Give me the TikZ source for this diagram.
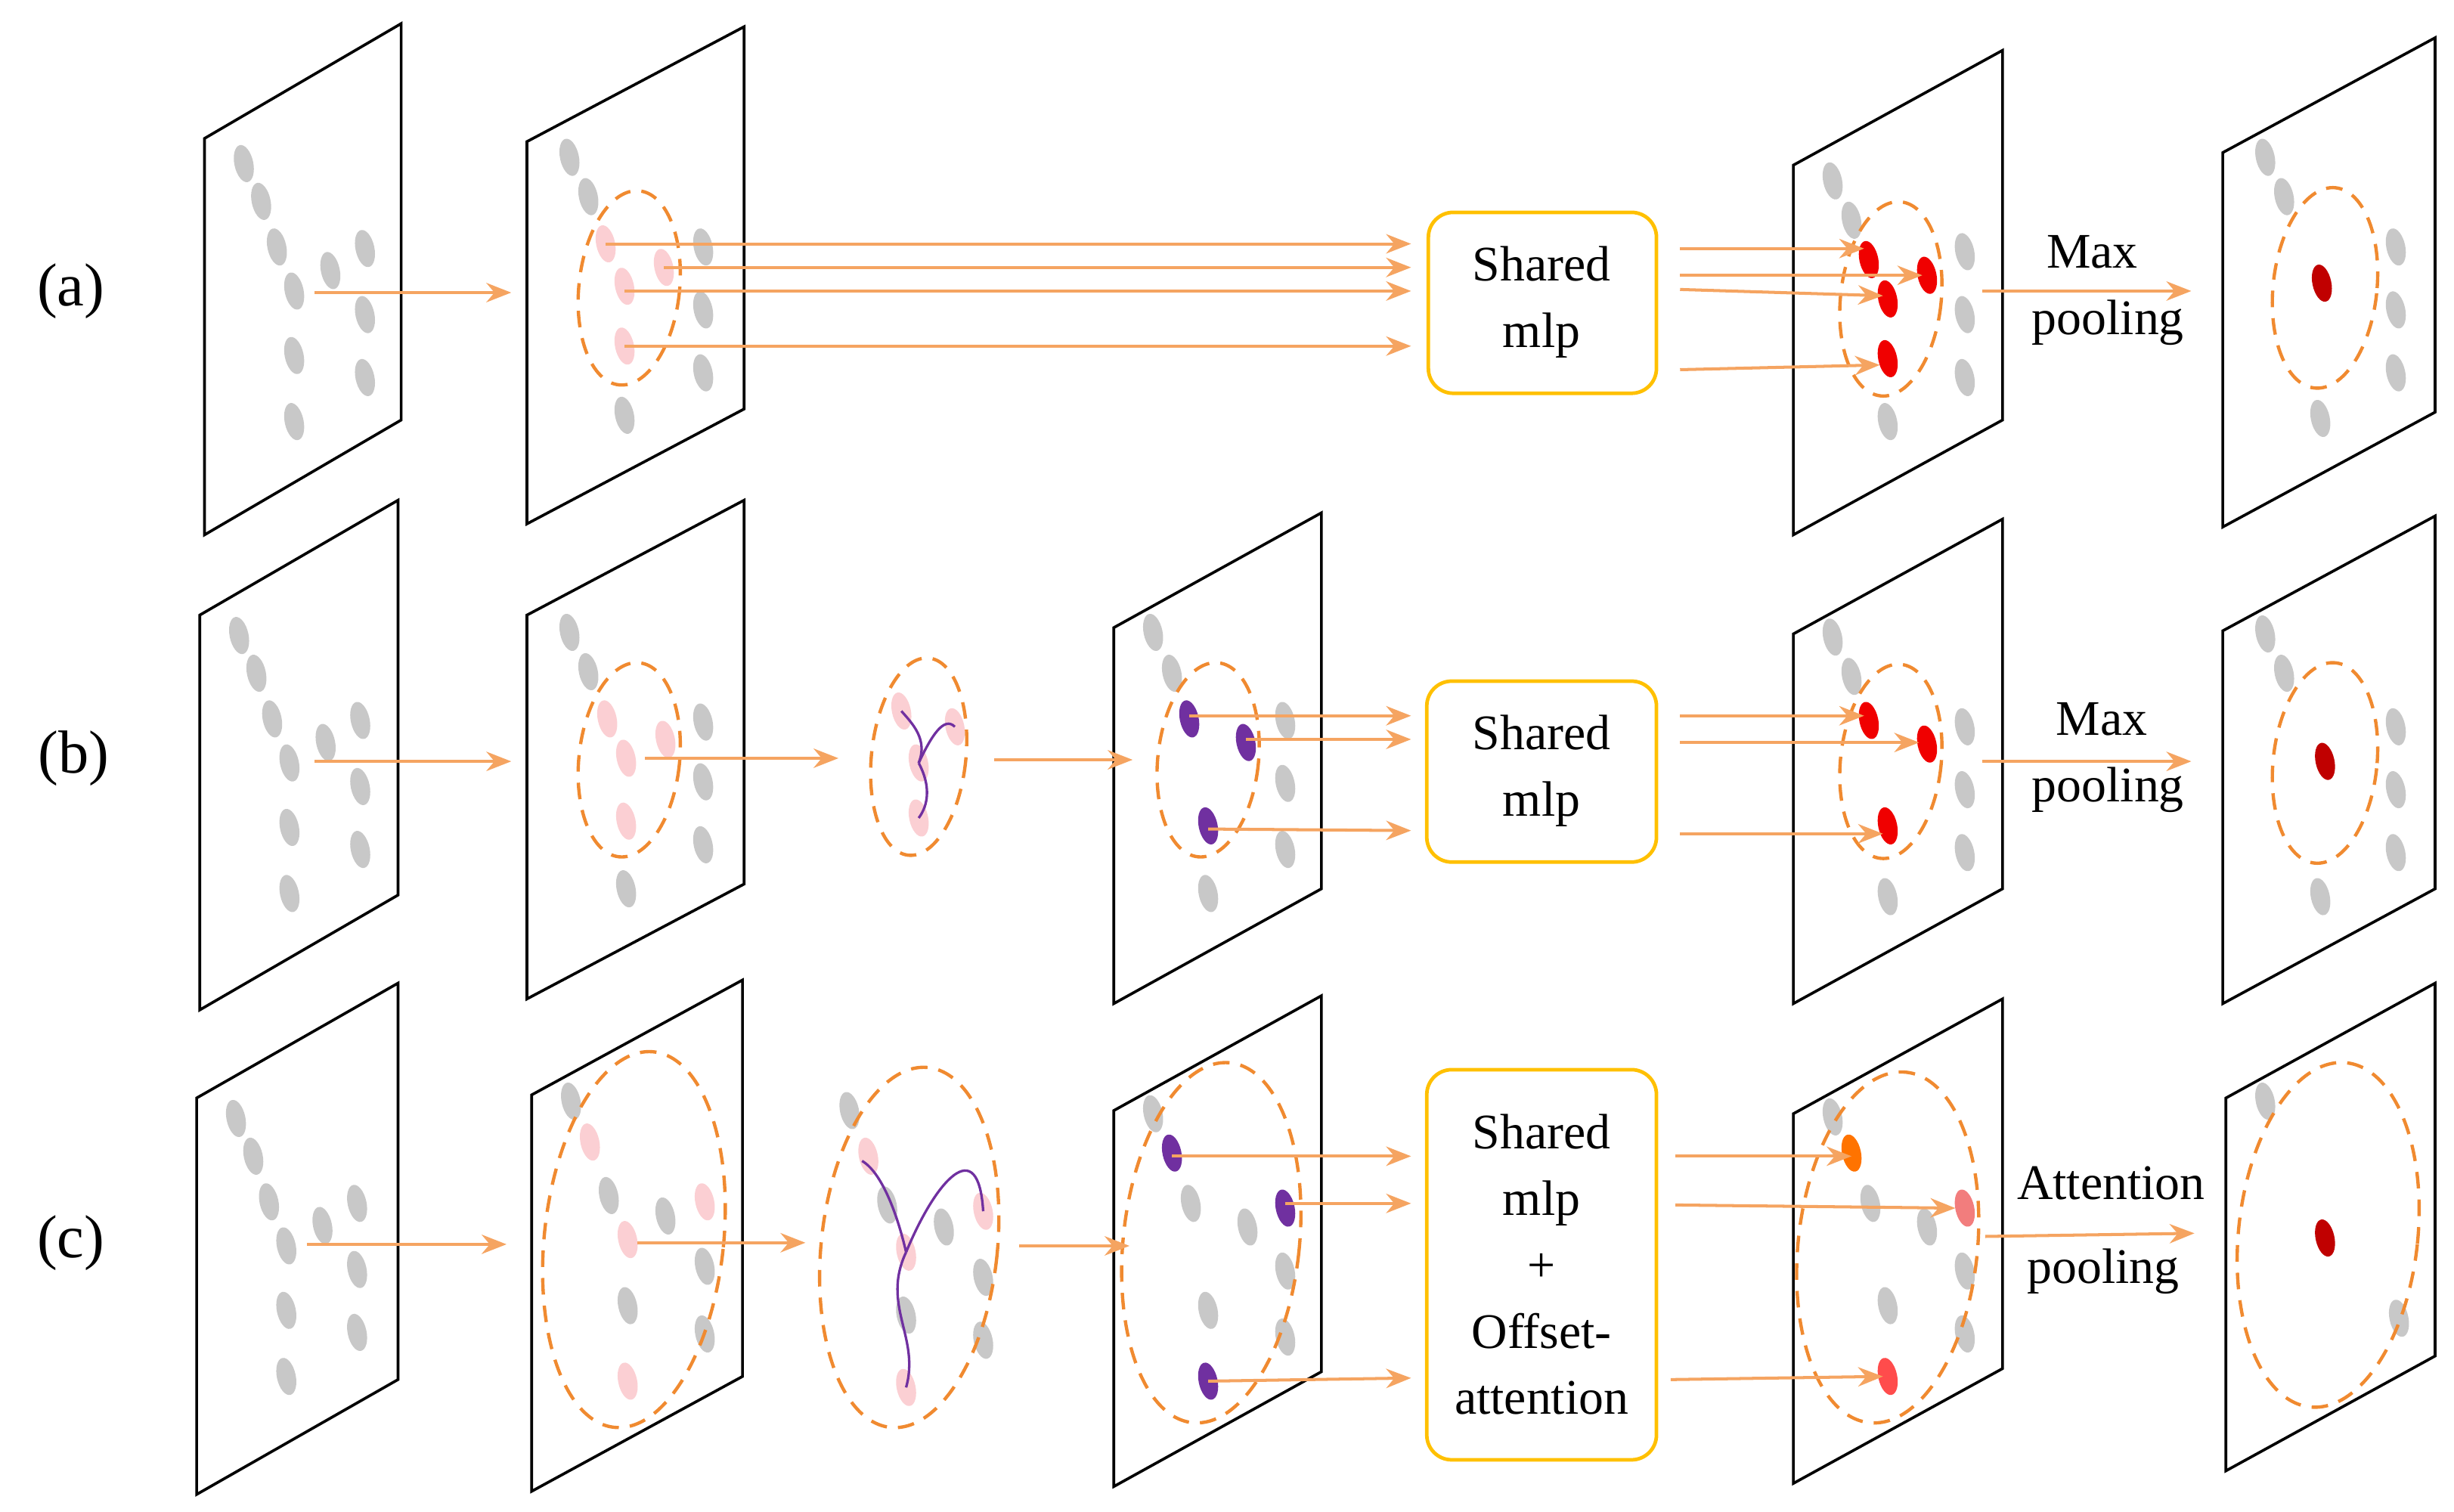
\documentclass[tikz,border=0pt]{standalone}
\usepackage{fontspec}
\setmainfont{Liberation Serif}
\usetikzlibrary{arrows.meta}
\definecolor{arr}{HTML}{F5A461}
\definecolor{dash}{HTML}{F08A30}
\definecolor{gdot}{HTML}{C8C8C8}
\definecolor{pdot}{HTML}{FBCFD3}
\definecolor{rdot}{HTML}{F00000}
\definecolor{drdot}{HTML}{C00000}
\definecolor{vdot}{HTML}{7030A0}
\definecolor{box}{HTML}{FFC000}
\begin{document}
\begin{tikzpicture}[x=0.02cm,y=-0.02cm,
  ar/.style={draw=arr,line width=1.1pt,-{Stealth[length=9pt,width=7pt]}},
  dsh/.style={draw=dash,line width=1.2pt,dash pattern=on 6pt off 4pt},
  pan/.style={draw=black,line width=1pt},
  bx/.style={draw=box,line width=1.3pt,rounded corners=9pt},
  bt/.style={align=center,font=\fontsize{18}{24}\selectfont},
  lab/.style={font=\fontsize{18}{22}\selectfont},
  big/.style={font=\fontsize{22}{26}\selectfont}]
\useasboundingbox (0,0) rectangle (1560,961);
\newcommand\pan[4]{\draw[pan] (#1,#2) -- (#3,#2-73) -- (#3,#4-73) -- (#1,#4) -- cycle;}
\newcommand\dt[3]{\fill[#3,rotate around={12:(#1,#2)}] (#1,#2) ellipse (6 and 12);}
\newcommand\dl[4]{\draw[dsh,rotate around={-6:(#1,#2)}] (#1,#2) ellipse (#3 and #4);}
% labels
\node[big] (la) at (45,185) {(a)};
\node[big] (lb) at (47,482) {(b)};
\node[big] (lc) at (45,790) {(c)};
% panels
\pan{130}{88}{255}{340}\pan{335}{90}{473}{333}\pan{1140}{105}{1273}{340}\pan{1413}{97}{1548}{335}
\pan{127}{391}{253}{642}\pan{335}{391}{473}{635}\pan{708}{399}{840}{638}\pan{1140}{403}{1273}{638}\pan{1413}{401}{1548}{638}
\pan{125}{698}{253}{950}\pan{338}{696}{472}{948}\pan{708}{706}{840}{945}\pan{1140}{708}{1273}{943}\pan{1415}{698}{1548}{935}
% P1 dots
\foreach \dy/\dx in {0/0,300/-3,607/-5}{
 \foreach \x/\y in {155/104,166/128,176/157,187/185,210/172,232/158,232/200,187/226,232/240,187/268}
  {\dt{\x+\dx}{\y+\dy}{gdot}}}
% row a P2
\foreach \x/\y in {362/100,374/125,447/157,447/197,447/237,397/264}{\dt{\x}{\y}{gdot}}
\foreach \x/\y in {385/155,397/182,422/170,397/220}{\dt{\x}{\y}{pdot}}
\dl{400}{183}{32}{62}
% row a P5
\foreach \x/\y in {1165/115,1177/140,1249/160,1249/200,1249/240,1200/268}{\dt{\x}{\y}{gdot}}
\foreach \x/\y in {1188/165,1200/190,1225/175,1200/228}{\dt{\x}{\y}{rdot}}
\dl{1202}{190}{32}{62}
% row a P6
\foreach \x/\y in {1440/100,1452/125,1523/157,1523/197,1523/237,1475/266}{\dt{\x}{\y}{gdot}}
\dt{1476}{180}{drdot}\dl{1478}{183}{33}{64}
% row b P2
\foreach \x/\y in {362/402,374/427,447/459,447/497,447/537,398/565}{\dt{\x}{\y}{gdot}}
\foreach \x/\y in {386/457,398/482,423/470,398/522}{\dt{\x}{\y}{pdot}}
\dl{400}{483}{32}{62}
% row b P3
\foreach \x/\y in {573/452,607/462,584/485,584/520}{\dt{\x}{\y}{pdot}}
\draw[vdot,line width=0.9pt] (584,485) .. controls (590,470) and (580,460) .. (573,452);
\draw[vdot,line width=0.9pt] (584,485) .. controls (592,468) and (600,455) .. (607,462);
\draw[vdot,line width=0.9pt] (584,485) .. controls (592,500) and (590,512) .. (584,520);
\dl{584}{481}{30}{63}
% row b P4
\foreach \x/\y in {733/402,745/428,817/458,817/498,817/540,768/568}{\dt{\x}{\y}{gdot}}
\foreach \x/\y in {756/457,792/472,768/525}{\dt{\x}{\y}{vdot}}
\dl{768}{483}{32}{62}
% row b P5
\foreach \x/\y in {1165/405,1177/430,1249/462,1249/502,1249/542,1200/570}{\dt{\x}{\y}{gdot}}
\foreach \x/\y in {1188/458,1225/473,1200/525}{\dt{\x}{\y}{rdot}}
\dl{1202}{484}{32}{62}
% row b P6
\foreach \x/\y in {1440/403,1452/428,1523/462,1523/502,1523/542,1475/570}{\dt{\x}{\y}{gdot}}
\dt{1478}{484}{drdot}\dl{1478}{485}{33}{64}
% row c P2
\foreach \x/\y in {363/700,387/760,423/773,448/805,399/830,448/848}{\dt{\x}{\y}{gdot}}
\foreach \x/\y in {375/726,399/788,448/764,399/878}{\dt{\x}{\y}{pdot}}
\dl{403}{788}{57}{120}
% row c P3
\foreach \x/\y in {540/706,564/766,600/780,625/812,576/836,625/852}{\dt{\x}{\y}{gdot}}
\foreach \x/\y in {552/735,576/796,625/770,576/882}{\dt{\x}{\y}{pdot}}
\draw[vdot,line width=0.9pt] (576,796) .. controls (570,770) and (560,745) .. (548,738);
\draw[vdot,line width=0.9pt] (576,796) .. controls (595,750) and (622,720) .. (625,770);
\draw[vdot,line width=0.9pt] (576,796) .. controls (560,830) and (585,850) .. (576,882);
\dl{578}{793}{56}{115}
% row c P4
\foreach \x/\y in {733/708,757/765,793/780,817/808,768/833,817/850}{\dt{\x}{\y}{gdot}}
\foreach \x/\y in {745/733,817/768,768/878}{\dt{\x}{\y}{vdot}}
\dl{770}{790}{56}{115}
% row c P5
\foreach \x/\y in {1165/710,1189/765,1225/780,1249/808,1200/830,1249/848}{\dt{\x}{\y}{gdot}}
\dt{1177}{733}{orange!90!red}\dt{1249}{768}{red!35!pink!90!gray}\dt{1200}{875}{red!70!white}
\dl{1200}{793}{57}{112}
% row c P6
\dt{1440}{700}{gdot}\dt{1525}{838}{gdot}\dt{1478}{787}{drdot}
\dl{1480}{785}{57}{110}
% boxes
\draw[bx] (908,135) rectangle (1053,250);
\node[bt] (sa) at (980,192) {Shared\\mlp};
\draw[bx] (907,433) rectangle (1053,548);
\node[bt] (sb) at (980,490) {Shared\\mlp};
\draw[bx] (907,680) rectangle (1053,928);
\node[bt] (sc) at (980,804) {Shared\\mlp\\+\\Offset-\\attention};
% pooling labels
\node[lab] (m1) at (1330,160) {Max};
\node[lab] (p1) at (1340,205) {pooling};
\node[lab] (m2) at (1336,457) {Max};
\node[lab] (p2) at (1340,502) {pooling};
\node[lab] (m3) at (1342,752) {Attention};
\node[lab] (p3) at (1337,808) {pooling};
% arrows row a
\draw[ar] (200,186) -- (325,186);
\foreach \a/\b in {385/155,422/170,397/185,397/220}{\draw[ar] (\a,\b) -- (897,\b);}
\draw[ar] (1068,158) -- (1185,158);
\draw[ar] (1068,175) -- (1222,175);
\draw[ar] (1068,184) -- (1197,188);
\draw[ar] (1068,235) -- (1195,232);
\draw[ar] (1260,185) -- (1393,185);
% row b
\draw[ar] (200,484) -- (325,484);
\draw[ar] (410,482) -- (533,482);
\draw[ar] (632,483) -- (720,483);
\draw[ar] (756,455) -- (897,455);
\draw[ar] (792,470) -- (897,470);
\draw[ar] (768,527) -- (897,528);
\draw[ar] (1068,455) -- (1185,455);
\draw[ar] (1068,472) -- (1220,472);
\draw[ar] (1068,530) -- (1197,530);
\draw[ar] (1260,484) -- (1393,484);
% row c
\draw[ar] (195,791) -- (322,791);
\draw[ar] (405,790) -- (512,790);
\draw[ar] (648,792) -- (718,792);
\draw[ar] (745,735) -- (897,735);
\draw[ar] (817,765) -- (897,765);
\draw[ar] (768,878) -- (897,876);
\draw[ar] (1065,735) -- (1177,735);
\draw[ar] (1065,766) -- (1243,768);
\draw[ar] (1062,877) -- (1197,875);
\draw[ar] (1262,786) -- (1395,784);
\end{tikzpicture}
\end{document}
